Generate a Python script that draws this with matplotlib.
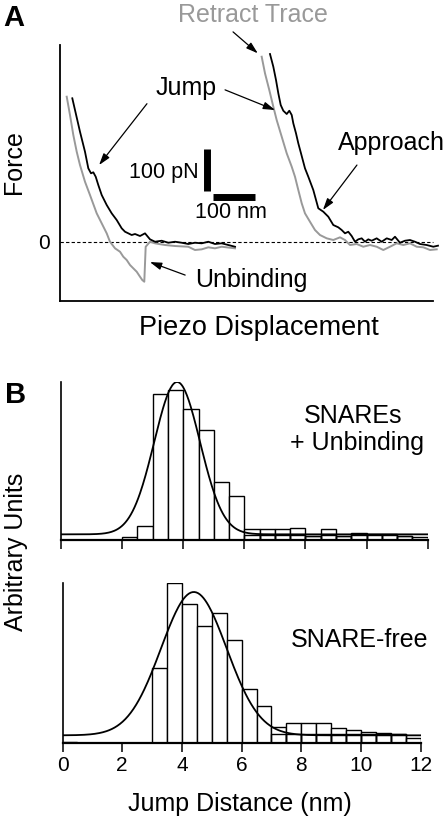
import numpy as np
import matplotlib.pyplot as plt

plt.rcParams['font.family'] = ['Liberation Sans', 'DejaVu Sans']

W, H = 448, 822

# ---- Panel A: force traces (x = piezo travel in nm, y = force in pN)
left_approach_x = [29.3, 47.6, 59.5, 67.4, 73.8, 79.3, 85.0, 91.2, 99.3, 111.2, 123.1, 135.0,
                   146.9, 154.8, 162.6, 170.7, 178.6, 190.5, 202.4, 214.3, 226.2, 242.1, 257.9,
                   273.8, 289.8, 305.5, 321.4, 337.4, 353.1, 369.0, 385.0, 400.7, 416.7]
left_approach_y = [342.9, 263.3, 215.7, 176.2, 164.3, 166.7, 156.2, 136.4, 112.6, 88.8, 69.0, 53.1,
                   33.3, 25.2, 21.4, 17.4, 19.8, 15.0, 21.4, 7.1, 1.4, 3.8, -1.0,
                   1.4, -1.0, -4.0, -1.0, -2.4, 1.4, -4.0, -2.4, -6.4, -10.5]

left_retract_x = [16.0, 23.8, 31.7, 39.8, 47.6, 59.5, 71.4, 87.4, 99.3, 111.2, 119.0, 131.0,
                  142.9, 150.7, 158.8, 166.7, 174.5, 182.6, 190.5, 195.9, 200.7, 204.0, 214.3,
                  226.2, 250.0, 273.8, 305.5, 321.4, 337.4, 353.1, 369.0, 385.0, 416.7]
left_retract_y = [346.7, 303.1, 255.5, 215.7, 184.0, 144.3, 112.6, 69.0, 45.2, 21.4, 1.4, -14.3,
                  -22.4, -34.3, -42.1, -54.0, -61.9, -70.0, -81.9, -89.8, -93.8, -10.5, 1.4,
                  -2.4, -6.4, -8.8, -10.5, -18.3, -16.7, -11.9, -14.3, -10.5, -14.3]

right_approach_x = [500.0, 507.9, 514.3, 519.8, 525.5, 531.7, 539.8, 546.0, 551.7, 555.5, 561.9,
                    567.4, 573.8, 583.3, 591.2, 603.1, 615.0, 626.9, 638.8, 650.7, 662.6, 670.7,
                    678.6, 686.4, 694.5, 702.4, 710.2, 718.3, 726.2, 734.0, 742.1, 754.0, 765.9,
                    777.9, 789.8, 797.6, 809.5, 821.4, 833.3, 845.2, 857.1, 873.1, 888.8, 900.0]
right_approach_y = [448.3, 418.1, 386.4, 354.8, 326.9, 313.3, 305.5, 313.3, 303.1, 283.3, 259.5,
                    235.7, 211.9, 176.2, 156.2, 124.5, 81.0, 72.9, 61.0, 41.2, 35.7, 29.3,
                    21.4, 25.2, 15.0, 1.4, 7.1, 9.5, 1.4, 7.1, 3.8, 9.5, 1.4,
                    9.5, 5.5, 13.3, -1.0, 3.8, 5.5, 1.4, -4.0, -6.4, -10.5, -8.0]

right_retract_x = [480.2, 488.1, 498.3, 507.9, 515.9, 527.9, 539.8, 551.7, 559.5, 567.4, 575.5,
                   583.3, 595.2, 607.1, 619.0, 635.0, 650.7, 666.7, 678.6, 690.5, 706.4, 722.1,
                   738.1, 754.0, 769.8, 785.7, 801.7, 817.4, 833.3, 849.3, 865.0, 881.0, 896.9]
right_retract_y = [441.9, 402.4, 362.6, 322.9, 291.2, 251.4, 211.9, 180.0, 156.2, 124.5, 92.9,
                   69.0, 49.0, 29.3, 17.4, 9.5, 5.5, 11.9, 5.5, -6.4, -4.0, -10.5,
                   -6.4, -10.5, -18.3, -10.5, -2.4, -6.4, -2.4, -10.5, -11.9, -18.3, -16.7]

# ---- Panel B: jump distance histograms (bins of 0.5 nm, arbitrary units)
bin_edges = np.arange(0, 12.5, 0.5)
snares_counts = [0, 0, 0, 0, 10, 42, 440, 450, 395, 332, 173, 132,
                 32, 32, 32, 35, 13, 32, 13, 20, 18, 18, 13, 8]
snares_inner = [0, 0, 0, 0, 0, 0, 0, 0, 0, 0, 0, 0,
                15, 15, 15, 15, 13, 15, 13, 15, 15, 15, 13, 0]
free_counts = [4, 0, 0, 0, 0, 0, 226, 481, 418, 350, 390, 308,
               163, 111, 48, 61, 61, 61, 45, 38, 32, 29, 27, 15]
free_inner = [0, 0, 0, 0, 0, 0, 0, 0, 0, 0, 0, 0,
              0, 0, 28, 28, 28, 28, 28, 28, 28, 28, 27, 0]
# gaussian fits: centre, sigma, amplitude, baseline
snares_fit = (3.8, 0.75, 458, 17)
free_fit = (4.4, 1.1, 430, 23)
xticks = [0, 2, 4, 6, 8, 10, 12]


def fpos(x, y):
    return x / W, 1 - y / H


def axes_px(fig, left, top, right, bottom):
    return fig.add_axes([left / W, 1 - bottom / H, (right - left) / W, (bottom - top) / H])


fig = plt.figure(figsize=(W / 100, H / 100), dpi=100)

# ================= Panel A =================
ax = axes_px(fig, 60, 45, 438, 300.7)
ax.set_xlim(0, 900)
ax.set_ylim(-139, 469.8)
for s in ['top', 'right']:
    ax.spines[s].set_visible(False)
ax.spines['left'].set_linewidth(1.3)
ax.spines['bottom'].set_linewidth(1.3)
ax.spines['bottom'].set_bounds(0, 888)
ax.set_xticks([])
ax.set_yticks([])

gray = '#999999'
ax.axhline(0, xmin=0, xmax=888 / 900, color='k', lw=0.8, ls=(0, (3, 2)))
ax.plot(left_retract_x, left_retract_y, color=gray, lw=1.4)
ax.plot(right_retract_x, right_retract_y, color=gray, lw=1.4)
ax.plot(left_approach_x, left_approach_y, color='k', lw=1.3)
ax.plot(right_approach_x, right_approach_y, color='k', lw=1.3, clip_on=False)

# scale bars
ax.plot([350, 350], [122, 222], color='k', lw=5, solid_capstyle='butt')
ax.plot([365, 465], [108, 108], color='k', lw=5, solid_capstyle='butt')

arrow = dict(arrowstyle='-|>,head_length=0.7,head_width=0.22', lw=0.9, color='k',
             shrinkA=0, shrinkB=0)
ax.annotate('', xy=(471, 450), xytext=(412, 501), arrowprops=arrow, annotation_clip=False)
ax.annotate('', xy=(93, 184), xytext=(207, 330), arrowprops=arrow)
ax.annotate('', xy=(512, 315), xytext=(393, 363), arrowprops=arrow)
ax.annotate('', xy=(626, 77), xytext=(707, 184), arrowprops=arrow)
ax.annotate('', xy=(214, -47), xytext=(298, -78), arrowprops=arrow)

fs = 18
fig.text(*fpos(3, 26), 'A', fontsize=21, fontweight='bold', ha='left', va='baseline')
fig.text(*fpos(253, 22), 'Retract Trace', fontsize=fs, color=gray, ha='center', va='baseline')
fig.text(*fpos(186, 95), 'Jump', fontsize=fs, ha='center', va='baseline')
fig.text(*fpos(391, 150), 'Approach', fontsize=fs, ha='center', va='baseline')
fig.text(*fpos(251, 287), 'Unbinding', fontsize=fs, ha='center', va='baseline')
fig.text(*fpos(199, 178), '100 pN', fontsize=15.5, ha='right', va='baseline')
fig.text(*fpos(231, 218), '100 nm', fontsize=15.5, ha='center', va='baseline')
fig.text(*fpos(50, 249), '0', fontsize=15, ha='right', va='baseline')
fig.text(*fpos(14, 162), 'Force', fontsize=fs, rotation=90, ha='center', va='center')
fig.text(*fpos(259, 335), 'Piezo Displacement', fontsize=19.5, ha='center', va='baseline')


# ================= Panel B =================
def draw_hist(ax, counts, inner, fit, ymax):
    ax.bar(bin_edges[:-1], counts, width=0.5, align='edge', facecolor='white',
           edgecolor='k', linewidth=1.0, zorder=2)
    ax.bar(bin_edges[:-1], inner, width=0.5, align='edge', fill=False,
           edgecolor='k', linewidth=1.0, zorder=2)
    mu, sig, amp, base = fit
    xs = np.linspace(0, 12, 400)
    ax.plot(xs, base + amp * np.exp(-(xs - mu) ** 2 / (2 * sig ** 2)), color='k', lw=1.3, zorder=3)
    ax.set_xlim(0, 12)
    ax.set_ylim(0, ymax)
    for s in ['top', 'right']:
        ax.spines[s].set_visible(False)
    ax.spines['left'].set_linewidth(1.2)
    ax.spines['bottom'].set_linewidth(1.6)
    ax.set_yticks([])
    ax.set_xticks(xticks)
    ax.tick_params(axis='x', direction='out', length=6.5, width=1.1, pad=3, labelsize=15)


ax1 = axes_px(fig, 61, 382, 427.7, 540)
draw_hist(ax1, snares_counts, snares_inner, snares_fit, 475)
ax1.set_xticklabels([])

ax2 = axes_px(fig, 62.5, 583, 420.7, 743)
draw_hist(ax2, free_counts, free_inner, free_fit, 480)

fig.text(*fpos(5, 403), 'B', fontsize=21, fontweight='bold', ha='left', va='baseline')
fig.text(*fpos(353, 423), 'SNAREs', fontsize=fs, ha='center', va='baseline')
fig.text(*fpos(357, 450), '+ Unbinding', fontsize=fs, ha='center', va='baseline')
fig.text(*fpos(360, 647), 'SNARE-free', fontsize=fs, ha='center', va='baseline')
fig.text(*fpos(16, 552), 'Arbitrary Units', fontsize=fs, rotation=90, ha='center', va='center')
fig.text(*fpos(240, 811), 'Jump Distance (nm)', fontsize=fs, ha='center', va='baseline')

fig.savefig('out.png', dpi=100, facecolor='white')
